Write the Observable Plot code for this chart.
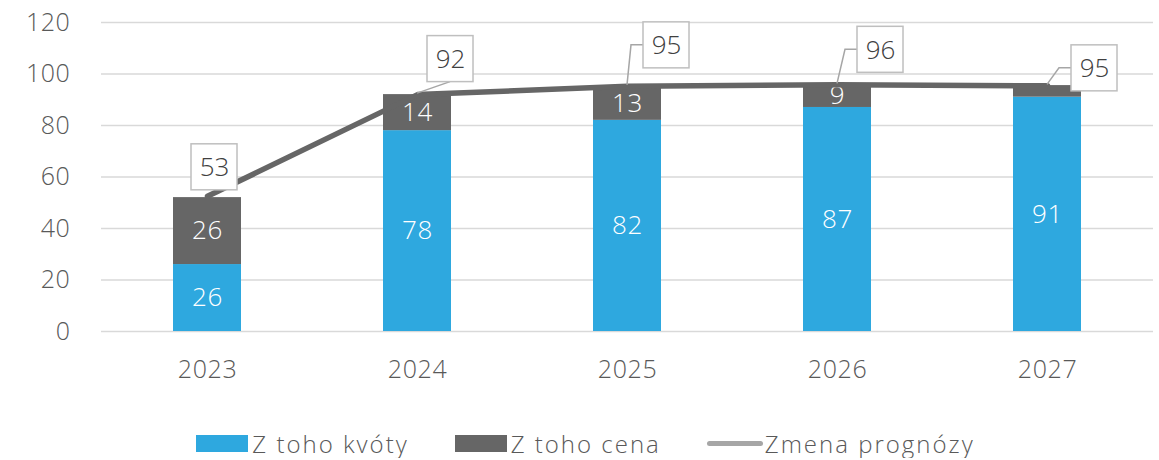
<!DOCTYPE html>
<html><head><meta charset="utf-8">
<script src="https://cdn.jsdelivr.net/npm/d3@7"></script>
<script src="https://cdn.jsdelivr.net/npm/@observablehq/plot@0.6"></script>
<style>
body{margin:0;background:#fff;font-family:"Open Sans",sans-serif;}
#legend{display:flex;justify-content:center;align-items:center;height:30px;margin-top:28px;padding-left:12px;
  font-size:24px;font-weight:300;color:#595959;letter-spacing:2px;}
.item{display:flex;align-items:center;margin-right:46px;}
.item:last-child{margin-right:0;}
.sw{width:52px;height:17px;margin-right:4px;}
.ln{width:56px;height:5px;border-radius:3px;margin-right:2px;}
</style></head><body><div id="chart"></div><div id="legend"></div>
<script>
const years = ["2023","2024","2025","2026","2027"];
const kvoty = [26, 78, 82, 87, 91];
const cena = [26, 14, 13, 9, 4.5];
const prognoza = [52.5, 92, 95.2, 95.8, 95.4];
const yTicks = [0, 20, 40, 60, 80, 100, 120];
const seriesNames = ["Z toho kvóty", "Z toho cena", "Zmena prognózy"];
const colors = ["#2EA8DF", "#666666", "#A6A6A6"];
const lineColor = "#666666";
// callout box offsets in px from each line point, and leader style
const labelOffsets = [[7, -29, "none"], [33, -35.5, "bottom"], [39, -41, "left"], [43, -35, "left"], [47, -17.5, "left"]];

const barData = [];
years.forEach((y, i) => {
  barData.push({year: y, series: seriesNames[0], value: kvoty[i]});
  barData.push({year: y, series: seriesNames[1], value: cena[i]});
});
const lineData = years.map((y, i) => ({year: y, value: prognoza[i]}));

function callouts(index, scales) {
  const g = d3.create("svg:g");
  const bw = scales.x.bandwidth ? scales.x.bandwidth() : 0;
  const half = 23;
  lineData.forEach((d, i) => {
    const px = scales.x(d.year) + bw / 2;
    const py = scales.y(d.value);
    const [dx, dy, kind] = labelOffsets[i];
    const bx = px + dx, by = py + dy;
    if (kind === "bottom") {
      g.append("path").attr("d", `M${px},${py - 1}L${bx},${by + half}`)
        .attr("stroke", colors[2]).attr("stroke-width", 1.5).attr("fill", "none");
    } else if (kind === "left") {
      g.append("path").attr("d", `M${px},${py - 1}L${bx - half - 12},${by}L${bx - half},${by}`)
        .attr("stroke", colors[2]).attr("stroke-width", 1.5).attr("fill", "none");
    }
    g.append("rect").attr("x", bx - half).attr("y", by - half).attr("width", 2 * half).attr("height", 2 * half)
      .attr("fill", "#fff").attr("stroke", "#BFBFBF").attr("stroke-width", 1.5);
    g.append("text").attr("x", bx + 0.5).attr("y", by).attr("dy", "0.36em").attr("text-anchor", "middle")
      .attr("font-size", 26).attr("font-weight", 350).attr("letter-spacing", "0px")
      .attr("fill", "#404040").text(Math.round(d.value));
  });
  return g.node();
}

const chart = Plot.plot({
  width: 1159,
  height: 400,
  marginTop: 22,
  marginBottom: 69,
  marginLeft: 101,
  marginRight: 6,
  style: {fontFamily: "Open Sans", color: "#595959", fontWeight: 300, letterSpacing: "0.6px", background: "#fff"},
  x: {domain: years, paddingInner: 0.677, paddingOuter: 0.3385, label: null},
  y: {domain: [0, 120], label: null},
  color: {domain: seriesNames.slice(0, 2), range: colors.slice(0, 2)},
  marks: [
    Plot.ruleY(yTicks, {stroke: "#D9D9D9", strokeWidth: 1.5}),
    Plot.axisY({ticks: yTicks, tickSize: 0, tickPadding: 31, fontSize: 25, label: null}),
    Plot.axisX({tickSize: 0, tickPadding: 29, fontSize: 25, label: null}),
    Plot.barY(barData, Plot.stackY({x: "year", y: "value", z: "series", fill: "series"})),
    Plot.text(barData, Plot.stackY({x: "year", y: "value", z: "series",
      text: d => d.value >= 5 ? String(Math.round(d.value)) : "", fill: "#fff", fontSize: 26})),
    Plot.line(lineData, {x: "year", y: "value", stroke: lineColor, strokeWidth: 5.5, strokeLinejoin: "round"}),
    callouts
  ]
});
document.getElementById("chart").appendChild(chart);

const legend = document.getElementById("legend");
seriesNames.forEach((name, i) => {
  const item = document.createElement("div");
  item.className = "item";
  const sw = document.createElement("div");
  sw.className = i < 2 ? "sw" : "ln";
  sw.style.background = colors[i];
  const t = document.createElement("span");
  t.textContent = name;
  item.appendChild(sw); item.appendChild(t);
  legend.appendChild(item);
});
</script></body></html>
